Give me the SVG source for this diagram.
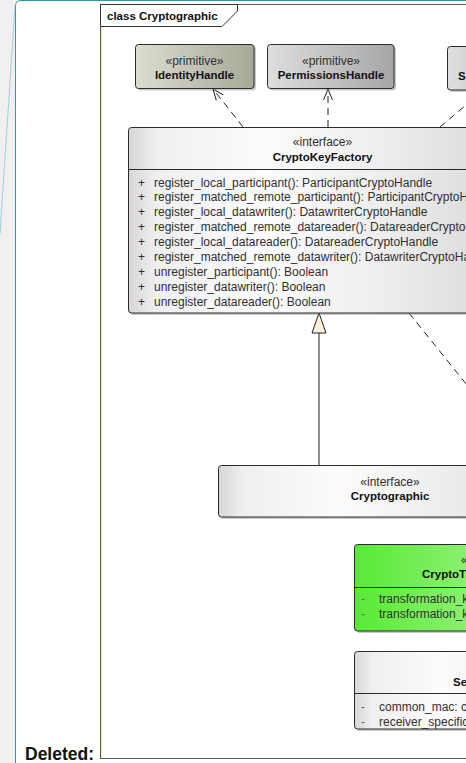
<svg xmlns="http://www.w3.org/2000/svg" width="466" height="763" viewBox="0 0 466 763">
<style>
  .t{font-family:"Liberation Sans",Arial,sans-serif;font-size:12px;fill:#303030}
  .b{font-family:"Liberation Sans",Arial,sans-serif;font-size:11.5px;font-weight:bold;fill:#111}
  .c{text-anchor:middle}
  .box{stroke:#2b2b2b;stroke-width:1}
  .sh{fill:#8a8a8a;opacity:.45}
  .rule{stroke:#2b2b2b;stroke-width:1}
  .vis{fill:#666}
  .dash{fill:none;stroke:#222;stroke-width:1;stroke-dasharray:7 5}
  .solid{fill:none;stroke:#222;stroke-width:1}
</style>
<defs>
  <linearGradient id="gKhaki" x1="0" y1="0" x2="1" y2="0">
    <stop offset="0" stop-color="#dcdcd0"/><stop offset="1" stop-color="#a8a898"/>
  </linearGradient>
  <linearGradient id="gGray" x1="0" y1="0" x2="1" y2="0">
    <stop offset="0" stop-color="#dedede"/><stop offset="1" stop-color="#a6a6a6"/>
  </linearGradient>
  <linearGradient id="gLight" x1="0" y1="0" x2="1" y2="0">
    <stop offset="0" stop-color="#d6d6d6"/><stop offset="0.07" stop-color="#efefef"/>
    <stop offset="0.35" stop-color="#fcfcfc"/><stop offset="0.7" stop-color="#ebebeb"/>
    <stop offset="1" stop-color="#d6d6d6"/>
  </linearGradient>
  <linearGradient id="gGreen" x1="0" y1="0" x2="1" y2="0">
    <stop offset="0" stop-color="#58ea36"/><stop offset="1" stop-color="#c8f7b4"/>
  </linearGradient>
  <marker id="open" viewBox="-12 -6 14 12" refX="0" refY="0" markerWidth="14" markerHeight="12" markerUnits="userSpaceOnUse" orient="auto">
    <path d="M-11,-4.5 L0,0 L-11,4.5" fill="none" stroke="#222" stroke-width="1"/>
  </marker>
</defs>

<!-- page and panel -->
<rect x="0" y="0" width="466" height="763" fill="#f0f0f0"/>
<path d="M15.5,763 V6 Q15.5,0.5 21,0.5 H466 V763 Z" fill="#ffffff"/>
<path d="M15.5,763 V6 Q15.5,0.5 21,0.5 H466" fill="none" stroke="#2f9aa0" stroke-width="1"/>
<path d="M15,6 L0,234" fill="none" stroke="#7fc3c6" stroke-width="1" opacity="0.7"/>

<!-- diagram frame -->
<g id="frame">
  <rect x="100.5" y="4.5" width="420" height="754" fill="#ffffff" stroke="#5a5a5a" stroke-width="1"/>
  <line x1="101.5" y1="27" x2="101.5" y2="758" stroke="#f1ecb8" stroke-width="1"/>
  <path d="M100.5,4.5 H237.5 V11 L222,26.5 H100.5 Z" fill="#ffffff" stroke="#333" stroke-width="1"/>
  <text class="b" x="107" y="20">class Cryptographic</text>
</g>

<!-- connectors -->
<g id="connectors">
  <path class="dash" d="M243,127 L213,89" marker-end="url(#open)"/>
  <path class="dash" d="M328,127 L328,89" marker-end="url(#open)"/>
  <path class="dash" d="M440,127 L484,90" marker-end="url(#open)"/>
  <path class="dash" d="M409,313 L520,451"/>
  <path class="solid" d="M319,465 L319,333"/>
  <polygon points="319,313 312,333 326,333" fill="#fcf0de" stroke="#222" stroke-width="1"/>
</g>

<g id="IdentityHandle">
  <rect class="sh" x="137.5" y="46.5" width="118.5" height="44" rx="3"/>
  <rect class="box" x="135.5" y="44.5" width="118.5" height="44" rx="3" fill="url(#gKhaki)"/>
  <text class="t c" x="194.5" y="64.5">«primitive»</text>
  <text class="b c" x="194.5" y="79">IdentityHandle</text>
</g>

<g id="PermissionsHandle">
  <rect class="sh" x="269.5" y="46.5" width="126.5" height="44" rx="3"/>
  <rect class="box" x="267.5" y="44.5" width="126.5" height="44" rx="3" fill="url(#gGray)"/>
  <text class="t c" x="331" y="64.5">«primitive»</text>
  <text class="b c" x="331" y="79">PermissionsHandle</text>
</g>

<g id="SharedHandle">
  <rect class="sh" x="449.5" y="48.5" width="120" height="43.5" rx="3"/>
  <rect class="box" x="447.5" y="46.5" width="120" height="43.5" rx="3" fill="url(#gGray)"/>
  <text class="b" x="458" y="80">S</text>
</g>

<g id="CryptoKeyFactory">
  <rect class="sh" x="130.5" y="129.5" width="389" height="185.5" rx="3"/>
  <rect class="box" x="128.5" y="127.5" width="389" height="185.5" rx="3" fill="url(#gLight)"/>
  <text class="t c" x="322.5" y="146">«interface»</text>
  <text class="b c" x="322.5" y="160.5">CryptoKeyFactory</text>
  <line class="rule" x1="128.5" y1="169.5" x2="517.5" y2="169.5"/>
  <g class="t">
    <text x="138" y="186.5">+</text><text x="154" y="186.5">register_local_participant(): ParticipantCryptoHandle</text>
    <text x="138" y="201.4">+</text><text x="154" y="201.4">register_matched_remote_participant(): ParticipantCryptoH</text>
    <text x="138" y="216.3">+</text><text x="154" y="216.3">register_local_datawriter(): DatawriterCryptoHandle</text>
    <text x="138" y="231.2">+</text><text x="154" y="231.2">register_matched_remote_datareader(): DatareaderCryptoH</text>
    <text x="138" y="246.1">+</text><text x="154" y="246.1">register_local_datareader(): DatareaderCryptoHandle</text>
    <text x="138" y="261">+</text><text x="154" y="261">register_matched_remote_datawriter(): DatawriterCryptoHa</text>
    <text x="138" y="275.9">+</text><text x="154" y="275.9">unregister_participant(): Boolean</text>
    <text x="138" y="290.8">+</text><text x="154" y="290.8">unregister_datawriter(): Boolean</text>
    <text x="138" y="305.7">+</text><text x="154" y="305.7">unregister_datareader(): Boolean</text>
  </g>
</g>

<g id="Cryptographic">
  <rect class="sh" x="220.5" y="467.5" width="343" height="51.5" rx="3"/>
  <rect class="box" x="218.5" y="465.5" width="343" height="51.5" rx="3" fill="url(#gLight)"/>
  <text class="t c" x="390" y="486">«interface»</text>
  <text class="b c" x="390" y="500">Cryptographic</text>
</g>

<g id="CryptoTransform">
  <rect class="sh" x="356.5" y="546.5" width="250" height="86.5" rx="3"/>
  <rect class="box" x="354.5" y="544.5" width="250" height="86.5" rx="3" fill="url(#gGreen)"/>
  <text class="t" x="461" y="563.5">«</text>
  <text class="b" x="422" y="578">CryptoTr</text>
  <line class="rule" x1="354.5" y1="587.5" x2="604.5" y2="587.5"/>
  <text class="t vis" x="361" y="603">-</text><text class="t" x="379" y="603">transformation_k</text>
  <text class="t vis" x="361" y="618">-</text><text class="t" x="379" y="618">transformation_k</text>
</g>

<g id="SecurityBox">
  <rect class="sh" x="356.5" y="653.5" width="250" height="77.5" rx="3"/>
  <rect class="box" x="354.5" y="651.5" width="250" height="77.5" rx="3" fill="url(#gLight)"/>
  <text class="b" x="453" y="686">Se</text>
  <line class="rule" x1="354.5" y1="693.5" x2="604.5" y2="693.5"/>
  <text class="t vis" x="361" y="711">-</text><text class="t" x="379" y="711">common_mac: c</text>
  <text class="t vis" x="361" y="726">-</text><text class="t" x="379" y="726">receiver_specific</text>
</g>

<text x="25" y="760" font-family="'Liberation Sans',Arial,sans-serif" font-size="17.5" font-weight="bold" fill="#111">Deleted:</text>
</svg>
